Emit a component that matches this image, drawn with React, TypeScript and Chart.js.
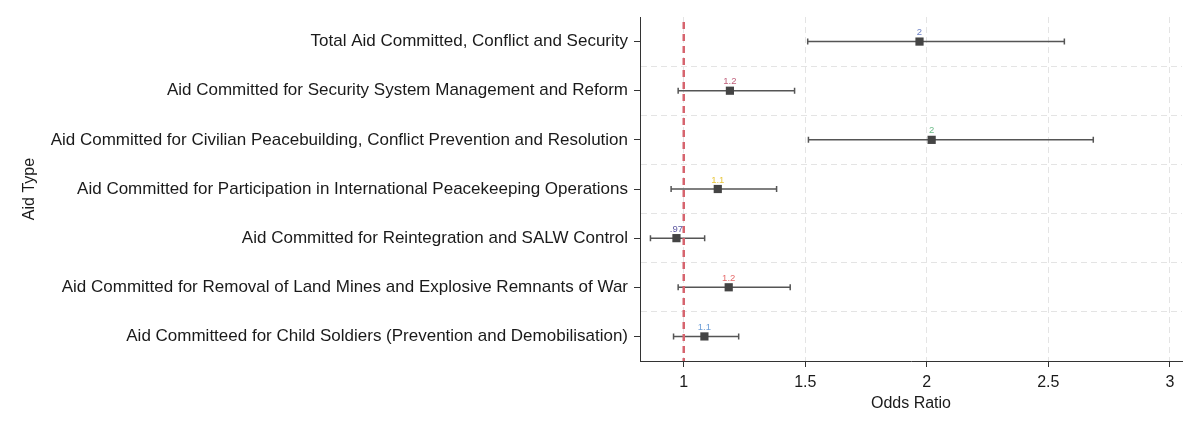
import { useEffect, useRef } from 'react';
import { Chart, registerables, Plugin } from 'chart.js';

Chart.register(...registerables);

// Aid types, top to bottom
const aidTypes = [
  'Total Aid Committed, Conflict and Security',
  'Aid Committed for Security System Management and Reform',
  'Aid Committed for Civilian Peacebuilding, Conflict Prevention and Resolution',
  'Aid Committed for Participation in International Peacekeeping Operations',
  'Aid Committed for Reintegration and SALW Control',
  'Aid Committed for Removal of Land Mines and Explosive Remnants of War',
  'Aid Committeed for Child Soldiers (Prevention and Demobilisation)',
];

// Odds ratios and 95% CI
const oddsRatio = [1.97, 1.19, 2.02, 1.14, 0.97, 1.185, 1.085];
const lowerCI = [1.51, 0.977, 1.513, 0.948, 0.863, 0.977, 0.958];
const upperCI = [2.566, 1.456, 2.685, 1.382, 1.086, 1.438, 1.226];
const pointLabels = ['2', '1.2', '2', '1.1', '.97', '1.2', '1.1'];
const labelColors = ['#6a7fc4', '#c0607c', '#6cbb88', '#e8c63c', '#5d58a0', '#e66a6a', '#6e9fd8'];

const xTicks = [1, 1.5, 2, 2.5, 3];
const refLine = 1;

const FONT = "'Liberation Sans', Arial, sans-serif";

const forestPlugin: Plugin = {
  id: 'forest',
  beforeDatasetsDraw(chart) {
    const { ctx, chartArea, scales } = chart;
    const x = scales.x;
    const y = scales.y;
    ctx.save();
    // confidence intervals
    ctx.strokeStyle = '#555555';
    ctx.lineWidth = 1.5;
    oddsRatio.forEach((_, i) => {
      const py = y.getPixelForValue(i + 1);
      const x1 = x.getPixelForValue(lowerCI[i]);
      const x2 = x.getPixelForValue(upperCI[i]);
      ctx.beginPath();
      ctx.moveTo(x1, py);
      ctx.lineTo(x2, py);
      ctx.moveTo(x1, py - 3);
      ctx.lineTo(x1, py + 3);
      ctx.moveTo(x2, py - 3);
      ctx.lineTo(x2, py + 3);
      ctx.stroke();
    });
    // reference line at OR = 1
    const rx = x.getPixelForValue(refLine);
    ctx.strokeStyle = '#d6646e';
    ctx.lineWidth = 2.5;
    ctx.setLineDash([7, 5]);
    ctx.beginPath();
    ctx.moveTo(rx, chartArea.top + 5);
    ctx.lineTo(rx, chartArea.bottom);
    ctx.stroke();
    ctx.restore();
  },
  afterDatasetsDraw(chart) {
    const { ctx, scales } = chart;
    ctx.save();
    ctx.font = `9.5px ${FONT}`;
    ctx.textAlign = 'center';
    ctx.textBaseline = 'middle';
    oddsRatio.forEach((v, i) => {
      ctx.fillStyle = labelColors[i];
      ctx.fillText(pointLabels[i], scales.x.getPixelForValue(v), scales.y.getPixelForValue(i + 1) - 9);
    });
    ctx.restore();
  },
};

export default function App() {
  const canvasRef = useRef<HTMLCanvasElement>(null);

  useEffect(() => {
    document.body.style.margin = '0';
    if (!canvasRef.current) return;
    const chart = new Chart(canvasRef.current, {
      type: 'scatter',
      data: {
        datasets: [
          {
            data: oddsRatio.map((v, i) => ({ x: v, y: i + 1 })),
            pointStyle: 'rect',
            pointRadius: 5.8,
            backgroundColor: '#444444',
            borderColor: '#444444',
            borderWidth: 0,
          },
        ],
      },
      plugins: [forestPlugin],
      options: {
        animation: false,
        responsive: false,
        layout: { padding: { left: 16, right: 18, top: 17, bottom: 10 } },
        plugins: { legend: { display: false }, tooltip: { enabled: false } },
        scales: {
          x: {
            type: 'linear',
            min: 0.82,
            max: 3.05,
            afterBuildTicks: (axis) => {
              axis.ticks = xTicks.map((v) => ({ value: v }));
            },
            afterFit: (axis) => {
              axis.height = 425 - 361 - 10;
            },
            ticks: {
              color: '#1a1a1a',
              font: { family: FONT, size: 16 },
              padding: 6,
              callback: (v) => String(v),
            },
            grid: {
              color: '#e4e4e4',
              lineWidth: 1,
              tickColor: '#333333',
              tickLength: 6,
            },
            border: { color: '#333333', width: 1, dash: [6, 4] },
            title: {
              display: true,
              text: 'Odds Ratio',
              color: '#1a1a1a',
              font: { family: FONT, size: 16 },
              padding: { top: 0, bottom: 2 },
            },
          },
          y: {
            type: 'linear',
            reverse: true,
            min: 0.5,
            max: 7.5,
            afterBuildTicks: (axis) => {
              const t = [];
              for (let k = 1; k <= 15; k++) t.push({ value: k / 2 });
              axis.ticks = t;
            },
            afterFit: (axis) => {
              axis.width = 640 - 16;
            },
            ticks: {
              color: '#1a1a1a',
              font: { family: FONT, size: 17 },
              padding: 6,
              autoSkip: false,
              callback: (v) => (Number.isInteger(Number(v)) ? aidTypes[Number(v) - 1] : ''),
            },
            grid: {
              color: (c) => {
                const v = c.tick ? c.tick.value : 0;
                return !Number.isInteger(v) && v > 0.5 && v < 7.5 ? '#e4e4e4' : 'rgba(0,0,0,0)';
              },
              tickColor: (c) => (c.tick && Number.isInteger(c.tick.value) ? '#333333' : 'rgba(0,0,0,0)'),
              tickLength: 6,
            },
            border: { color: '#333333', width: 1, dash: [6, 4] },
            title: {
              display: true,
              text: 'Aid Type',
              color: '#1a1a1a',
              font: { family: FONT, size: 16 },
              padding: { top: 4, bottom: 0 },
            },
          },
        },
      },
    });
    return () => chart.destroy();
  }, []);

  return (
    <div style={{ width: 1200, height: 425, background: '#ffffff' }}>
      <canvas ref={canvasRef} width={1200} height={425} />
    </div>
  );
}
